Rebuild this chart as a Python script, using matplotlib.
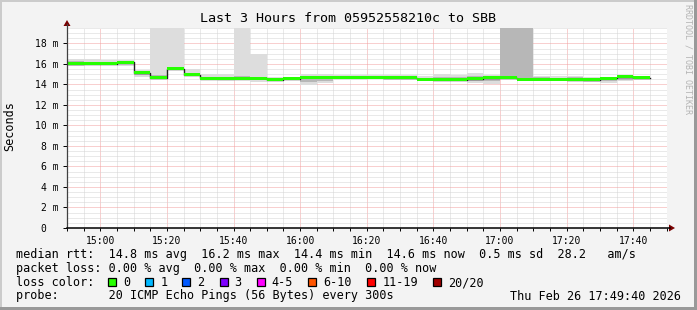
import numpy as np
import pandas as pd
import matplotlib
matplotlib.use("Agg")
import matplotlib.pyplot as plt
import matplotlib.dates as mdates
from matplotlib.ticker import MultipleLocator, FuncFormatter
from matplotlib.patches import Rectangle

plt.rcParams['font.family'] = ['DejaVu Sans Mono']

# 5 minute steps, 14:50 .. 17:45 (values in ms)
t_start = "2026-02-26 14:50"
rtt_median = [16.0, 16.0, 16.0, 16.15, 15.15, 14.65, 15.55, 14.95, 14.6, 14.55,
              14.6, 14.6, 14.45, 14.55, 14.7, 14.7, 14.7, 14.7, 14.7, 14.65,
              14.65, 14.5, 14.45, 14.45, 14.55, 14.65, 14.65, 14.5, 14.5, 14.5,
              14.45, 14.45, 14.6, 14.75, 14.65]
rtt_min = [15.8, 15.85, 15.85, 15.75, 14.75, 14.5, 15.4, 14.8, 14.3, 14.4,
           14.3, 14.25, 14.3, 14.4, 13.95, 14.1, 14.45, 14.45, 14.5, 14.45,
           14.45, 14.35, 14.35, 14.3, 14.1, 14.0, 14.5, 14.35, 14.45, 14.3,
           14.3, 14.25, 14.1, 14.3, 14.45]
rtt_max = [16.5, 16.45, 16.35, 16.35, 15.4, 24.0, 24.0, 15.5, 15.0, 15.0,
           24.0, 17.0, 14.75, 14.7, 15.05, 15.05, 14.95, 14.9, 14.9, 14.95,
           14.95, 14.8, 15.0, 14.95, 15.15, 14.95, 24.0, 24.0, 14.85, 14.8,
           14.85, 14.7, 14.7, 14.9, 14.8]
rtt_p15 = [15.9, 15.9, 15.9, 15.85, 14.9, 14.55, 15.45, 14.85, 14.45, 14.45,
           14.45, 14.45, 14.35, 14.45, 14.2, 14.3, 14.5, 14.55, 14.55, 14.5,
           14.5, 14.4, 14.4, 14.4, 14.3, 14.3, 14.55, 14.45, 14.5, 14.4,
           14.35, 14.35, 14.3, 14.45, 14.5]
rtt_p85 = [16.25, 16.2, 16.15, 16.2, 15.25, 14.9, 15.7, 15.1, 14.75, 14.7,
           14.8, 14.75, 14.6, 14.65, 14.85, 14.85, 14.85, 14.8, 14.8, 14.8,
           14.8, 14.65, 14.75, 14.7, 14.8, 14.8, 24.0, 24.0, 14.7, 14.65,
           14.75, 14.6, 14.65, 14.85, 14.75]

loss_labels = ['0', '1', '2', '3', '4-5', '6-10', '11-19', '20/20']
loss_colors = ['#26ff00', '#00b8ff', '#0059ff', '#7e00ff', '#ff00ff', '#ff5500', '#ff0000', '#a10000']

stats_lines = [
    "median rtt:  14.8 ms avg  16.2 ms max  14.4 ms min  14.6 ms now  0.5 ms sd  28.2   am/s",
    "packet loss: 0.00 % avg  0.00 % max  0.00 % min  0.00 % now",
]
probe_text = "probe:       20 ICMP Echo Pings (56 Bytes) every 300s"
stamp_text = "Thu Feb 26 17:49:40 2026"

W, H = 697, 310
fig = plt.figure(figsize=(W / 100, H / 100), dpi=100, facecolor='#f3f3f3')

def fx(px):
    return px / W

def fy(py):
    return 1 - py / H

ax = fig.add_axes([fx(67), fy(228), fx(666.5) - fx(67), fy(27.5) - fy(228)])
ax.set_facecolor('white')

times = pd.date_range(t_start, periods=len(rtt_median), freq='5min')
edges = pd.date_range(t_start, periods=len(rtt_median) + 1, freq='5min')
med = np.array(rtt_median)
lo = np.array(rtt_min)
hi = np.array(rtt_max)
q1 = np.array(rtt_p15)
q3 = np.array(rtt_p85)
step = pd.Timedelta('5min')

# smoke
ax.bar(times, hi - lo, bottom=lo, width=step, align='edge', color='#dddddd', lw=0, zorder=2)
ax.bar(times, q3 - q1, bottom=q1, width=step, align='edge', color='#b7b7b7', lw=0, zorder=2)
# median
ax.step(edges, np.append(med, med[-1]), where='post', color='#202020', lw=1, zorder=3)
ax.bar(times, 0.3, bottom=med - 0.15, width=step, align='edge', color=loss_colors[0], lw=0, zorder=4)

ax.set_xlim(pd.Timestamp("2026-02-26 14:50"), pd.Timestamp("2026-02-26 17:50"))
ax.set_ylim(0, 19.55)

ax.xaxis.set_major_locator(mdates.MinuteLocator(byminute=[0, 20, 40]))
ax.xaxis.set_minor_locator(mdates.MinuteLocator(byminute=range(0, 60, 5)))
ax.xaxis.set_major_formatter(mdates.DateFormatter('%H:%M'))
ax.yaxis.set_major_locator(MultipleLocator(2))
ax.yaxis.set_minor_locator(MultipleLocator(0.5))
ax.yaxis.set_major_formatter(FuncFormatter(lambda v, p: f"{int(round(v))} m" if v > 0 else "0  "))

ax.grid(which='minor', color='#d4d4d4', ls=(0, (1, 1)), lw=0.72, zorder=1)
ax.grid(which='major', color='#f2a0a0', ls=(0, (1, 1)), lw=0.72, zorder=1)
ax.set_axisbelow(True)

ax.tick_params(which='both', labelsize=7, colors='#000000', length=2, width=0.7, pad=3)
ax.tick_params(axis='y', which='major', length=3, pad=3)
ax.tick_params(axis='y', which='minor', length=0)
ax.tick_params(axis='x', which='major', pad=4)

for s in ['top', 'right', 'left', 'bottom']:
    ax.spines[s].set_visible(False)

# axes with arrows (rrdtool style)
fig.add_artist(plt.Line2D([fx(67), fx(67)], [fy(228), fy(24)], color='#404040', lw=0.9))
fig.add_artist(plt.Line2D([fx(67), fx(670)], [fy(228), fy(228)], color='#000000', lw=1.1))
fig.add_artist(plt.Polygon([[fx(63.5), fy(26)], [fx(70.5), fy(26)], [fx(67), fy(20)]],
                           closed=True, color='#7a0000', lw=0))
fig.add_artist(plt.Polygon([[fx(669), fy(224.5)], [fx(669), fy(231.5)], [fx(675), fy(228)]],
                           closed=True, color='#7a0000', lw=0))

fig.text(fx(348.5), fy(19), "Last 3 Hours from 05952558210c to SBB", ha='center', va='center', fontsize=9.6)
fig.text(fx(10), fy(126), "Seconds", rotation=90, ha='center', va='center', fontsize=8.5)
fig.text(fx(688), fy(59), "RRDTOOL / TOBI OETIKER", rotation=270, ha='center', va='center',
         fontsize=6, color='#b4b4b4')

fs = 8.5
fig.text(fx(16), fy(254.5), stats_lines[0], ha='left', va='center', fontsize=fs)
fig.text(fx(16), fy(268.5), stats_lines[1], ha='left', va='center', fontsize=fs)
fig.text(fx(16), fy(282.5), "loss color:", ha='left', va='center', fontsize=fs)
x = 108
for lab, col in zip(loss_labels, loss_colors):
    fig.add_artist(Rectangle((fx(x), fy(286)), fx(8), 8 / H, facecolor=col, edgecolor='black', lw=0.9))
    fig.text(fx(x + 15), fy(282.5), lab, ha='left', va='center', fontsize=fs)
    x += 30 + 7.2 * len(lab)
fig.text(fx(16), fy(296), probe_text, ha='left', va='center', fontsize=fs)
fig.text(fx(681), fy(296), stamp_text, ha='right', va='center', fontsize=fs)

# rrdtool frame shading
fig.add_artist(Rectangle((0, fy(2)), 1, 2 / H, facecolor='#cbcbcb', lw=0))
fig.add_artist(Rectangle((0, 0), fx(2), 1, facecolor='#cbcbcb', lw=0))
fig.add_artist(Rectangle((0, 0), 1, 3 / H, facecolor='#999999', lw=0))
fig.add_artist(Rectangle((fx(694), 0), fx(3), 1, facecolor='#999999', lw=0))

fig.savefig('out.png', dpi=100, facecolor=fig.get_facecolor())
